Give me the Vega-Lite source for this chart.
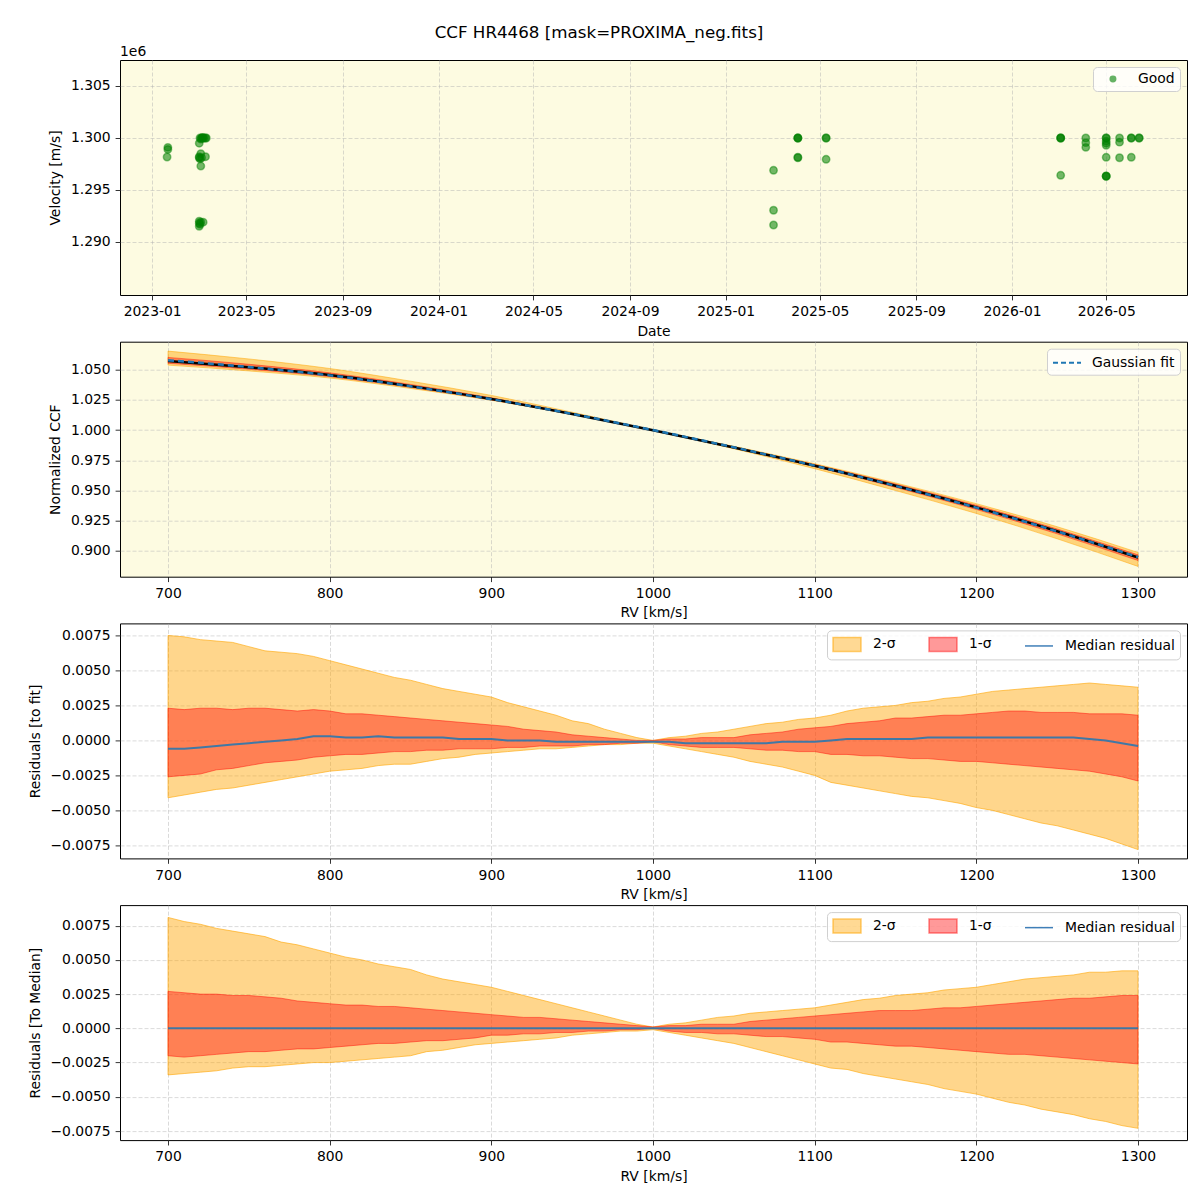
{
  "$schema": "https://vega.github.io/schema/vega-lite/v6.json",
  "autosize": {"type": "pad"},
  "padding": {"left": 27, "top": 24, "right": 12, "bottom": 5},
  "background": "white",
  "title": {"text": "CCF HR4468 [mask=PROXIMA_neg.fits]", "anchor": "middle", "frame": "group", "fontSize": 16.7, "fontWeight": "normal", "dx": -54.5, "offset": 3, "color": "black"},
  "spacing": 46.7,
  "bounds": "flush",
  "resolve": {"scale": {"color": "independent", "shape": "independent", "stroke": "independent"}, "legend": {"color": "independent", "shape": "independent", "stroke": "independent"}},
  "config": {
    "font": "DejaVu Sans",
    "view": {"fill": "#fdfbe1", "stroke": "black", "strokeWidth": 1},
    "axis": {"labelFont": "DejaVu Sans", "titleFont": "DejaVu Sans", "labelFontSize": 13.9, "titleFontSize": 13.9, "titleFontWeight": "normal", "labelColor": "black", "titleColor": "black", "tickColor": "black", "tickSize": 4.9, "tickWidth": 0.8, "domain": false, "gridColor": "#b0b0b0", "gridDash": [4, 2], "gridOpacity": 0.6, "gridWidth": 0.8, "labelPadding": 4.9, "labelOverlap": false, "tickCount": 20},
    "axisX": {"titlePadding": 5.5},
    "axisY": {"titlePadding": 7.5},
    "legend": {"labelFont": "DejaVu Sans", "labelFontSize": 13.9, "labelColor": "black", "title": null, "orient": "top-right", "offset": 7, "fillColor": "rgba(255,255,255,0.8)", "strokeColor": "#d0d0d0", "cornerRadius": 4, "padding": 5}
  },
  "datasets": {
    "leg": [{"cat": "2-σ"}, {"cat": "1-σ"}, {"cat": "Median residual"}],
    "vel": [
      {"date": "2023-01-21", "v": 1299100}, {"date": "2023-01-21", "v": 1298900}, {"date": "2023-01-20", "v": 1298170},
      {"date": "2023-03-02", "v": 1299500}, {"date": "2023-03-02", "v": 1298100}, {"date": "2023-03-02", "v": 1298200}, {"date": "2023-03-02", "v": 1291800}, {"date": "2023-03-02", "v": 1291500}, {"date": "2023-03-02", "v": 1292000},
      {"date": "2023-03-03", "v": 1300000}, {"date": "2023-03-03", "v": 1298000}, {"date": "2023-03-03", "v": 1291700}, {"date": "2023-03-04", "v": 1297300},
      {"date": "2023-03-04", "v": 1299900}, {"date": "2023-03-04", "v": 1298500}, {"date": "2023-03-04", "v": 1291900},
      {"date": "2023-03-05", "v": 1300000}, {"date": "2023-03-05", "v": 1298100}, {"date": "2023-03-06", "v": 1300050},
      {"date": "2023-03-07", "v": 1300000}, {"date": "2023-03-07", "v": 1291900}, {"date": "2023-03-08", "v": 1300000},
      {"date": "2023-03-10", "v": 1300000}, {"date": "2023-03-10", "v": 1298200}, {"date": "2023-03-11", "v": 1300000},
      {"date": "2025-03-03", "v": 1296890}, {"date": "2025-03-03", "v": 1293050}, {"date": "2025-03-03", "v": 1291630},
      {"date": "2025-04-03", "v": 1300000}, {"date": "2025-04-03", "v": 1300000}, {"date": "2025-04-03", "v": 1300000}, {"date": "2025-04-03", "v": 1298100}, {"date": "2025-04-03", "v": 1298150},
      {"date": "2025-05-09", "v": 1300000}, {"date": "2025-05-09", "v": 1300000}, {"date": "2025-05-09", "v": 1297950},
      {"date": "2026-03-04", "v": 1300000}, {"date": "2026-03-04", "v": 1300000}, {"date": "2026-03-04", "v": 1300000}, {"date": "2026-03-04", "v": 1296410},
      {"date": "2026-04-05", "v": 1300000}, {"date": "2026-04-05", "v": 1299550}, {"date": "2026-04-05", "v": 1299100},
      {"date": "2026-05-01", "v": 1300000}, {"date": "2026-05-01", "v": 1300000}, {"date": "2026-05-01", "v": 1299700}, {"date": "2026-05-01", "v": 1299300}, {"date": "2026-05-01", "v": 1299500}, {"date": "2026-05-01", "v": 1298140}, {"date": "2026-05-01", "v": 1296320}, {"date": "2026-05-01", "v": 1296320}, {"date": "2026-05-01", "v": 1296350},
      {"date": "2026-05-18", "v": 1300000}, {"date": "2026-05-18", "v": 1299600}, {"date": "2026-05-18", "v": 1298100},
      {"date": "2026-06-02", "v": 1300000}, {"date": "2026-06-02", "v": 1300000}, {"date": "2026-06-02", "v": 1298140},
      {"date": "2026-06-12", "v": 1300000}, {"date": "2026-06-12", "v": 1300000}
    ],
    "ccf": [
      {"rv": 700, "fit": 1.0579, "med": 1.0573, "lo2": 1.0538, "lo1": 1.0553, "hi1": 1.0602, "hi2": 1.0654},
      {"rv": 750, "fit": 1.0522, "med": 1.0520, "lo2": 1.0490, "lo1": 1.0504, "hi1": 1.0545, "hi2": 1.0589},
      {"rv": 800, "fit": 1.0453, "med": 1.0456, "lo2": 1.0431, "lo1": 1.0442, "hi1": 1.0474, "hi2": 1.0510},
      {"rv": 850, "fit": 1.0362, "med": 1.0364, "lo2": 1.0345, "lo1": 1.0354, "hi1": 1.0378, "hi2": 1.0405},
      {"rv": 900, "fit": 1.0256, "med": 1.0257, "lo2": 1.0247, "lo1": 1.0250, "hi1": 1.0267, "hi2": 1.0287},
      {"rv": 950, "fit": 1.0134, "med": 1.0133, "lo2": 1.0129, "lo1": 1.0130, "hi1": 1.0138, "hi2": 1.0148},
      {"rv": 1000, "fit": 1.0000, "med": 0.9999, "lo2": 0.9998, "lo1": 0.9999, "hi1": 1.0000, "hi2": 1.0000},
      {"rv": 1050, "fit": 0.9857, "med": 0.9855, "lo2": 0.9845, "lo1": 0.9852, "hi1": 0.9859, "hi2": 0.9865},
      {"rv": 1100, "fit": 0.9705, "med": 0.9704, "lo2": 0.9680, "lo1": 0.9697, "hi1": 0.9714, "hi2": 0.9721},
      {"rv": 1150, "fit": 0.9537, "med": 0.9538, "lo2": 0.9499, "lo1": 0.9525, "hi1": 0.9553, "hi2": 0.9562},
      {"rv": 1200, "fit": 0.9357, "med": 0.9359, "lo2": 0.9309, "lo1": 0.9342, "hi1": 0.9376, "hi2": 0.9390},
      {"rv": 1250, "fit": 0.9160, "med": 0.9162, "lo2": 0.9099, "lo1": 0.9140, "hi1": 0.9180, "hi2": 0.9199},
      {"rv": 1300, "fit": 0.8948, "med": 0.8944, "lo2": 0.8870, "lo1": 0.8919, "hi1": 0.8966, "hi2": 0.8986}
    ],
    "p3": [
      {"rv": 700, "lo2": -0.0041, "lo1": -0.0026, "med": -0.0006, "hi1": 0.0023, "hi2": 0.0075},
      {"rv": 710, "lo2": -0.0039, "lo1": -0.0025, "med": -0.0006, "hi1": 0.0022, "hi2": 0.0074},
      {"rv": 720, "lo2": -0.0037, "lo1": -0.0024, "med": -0.0005, "hi1": 0.0023, "hi2": 0.0072},
      {"rv": 730, "lo2": -0.0035, "lo1": -0.0021, "med": -0.0004, "hi1": 0.0023, "hi2": 0.0071},
      {"rv": 740, "lo2": -0.0034, "lo1": -0.0020, "med": -0.0003, "hi1": 0.0022, "hi2": 0.0070},
      {"rv": 750, "lo2": -0.0032, "lo1": -0.0018, "med": -0.0002, "hi1": 0.0023, "hi2": 0.0067},
      {"rv": 760, "lo2": -0.0030, "lo1": -0.0016, "med": -0.0001, "hi1": 0.0023, "hi2": 0.0064},
      {"rv": 770, "lo2": -0.0028, "lo1": -0.0015, "med": 0.0000, "hi1": 0.0022, "hi2": 0.0063},
      {"rv": 780, "lo2": -0.0026, "lo1": -0.0014, "med": 0.0001, "hi1": 0.0021, "hi2": 0.0062},
      {"rv": 790, "lo2": -0.0024, "lo1": -0.0012, "med": 0.0003, "hi1": 0.0022, "hi2": 0.0060},
      {"rv": 800, "lo2": -0.0022, "lo1": -0.0011, "med": 0.0003, "hi1": 0.0021, "hi2": 0.0057},
      {"rv": 810, "lo2": -0.0021, "lo1": -0.0010, "med": 0.0002, "hi1": 0.0019, "hi2": 0.0054},
      {"rv": 820, "lo2": -0.0020, "lo1": -0.0010, "med": 0.0002, "hi1": 0.0019, "hi2": 0.0051},
      {"rv": 830, "lo2": -0.0018, "lo1": -0.0009, "med": 0.0003, "hi1": 0.0018, "hi2": 0.0048},
      {"rv": 840, "lo2": -0.0017, "lo1": -0.0008, "med": 0.0002, "hi1": 0.0017, "hi2": 0.0045},
      {"rv": 850, "lo2": -0.0017, "lo1": -0.0008, "med": 0.0002, "hi1": 0.0016, "hi2": 0.0043},
      {"rv": 860, "lo2": -0.0015, "lo1": -0.0007, "med": 0.0002, "hi1": 0.0015, "hi2": 0.0040},
      {"rv": 870, "lo2": -0.0013, "lo1": -0.0007, "med": 0.0002, "hi1": 0.0014, "hi2": 0.0037},
      {"rv": 880, "lo2": -0.0012, "lo1": -0.0006, "med": 0.0001, "hi1": 0.0013, "hi2": 0.0035},
      {"rv": 890, "lo2": -0.0010, "lo1": -0.0006, "med": 0.0001, "hi1": 0.0012, "hi2": 0.0033},
      {"rv": 900, "lo2": -0.0009, "lo1": -0.0006, "med": 0.0001, "hi1": 0.0011, "hi2": 0.0031},
      {"rv": 910, "lo2": -0.0008, "lo1": -0.0005, "med": 0.0000, "hi1": 0.0010, "hi2": 0.0027},
      {"rv": 920, "lo2": -0.0007, "lo1": -0.0005, "med": 0.0000, "hi1": 0.0008, "hi2": 0.0024},
      {"rv": 930, "lo2": -0.0006, "lo1": -0.0004, "med": 0.0000, "hi1": 0.0007, "hi2": 0.0021},
      {"rv": 940, "lo2": -0.0006, "lo1": -0.0004, "med": -0.0001, "hi1": 0.0006, "hi2": 0.0018},
      {"rv": 950, "lo2": -0.0005, "lo1": -0.0004, "med": -0.0001, "hi1": 0.0004, "hi2": 0.0014},
      {"rv": 960, "lo2": -0.0004, "lo1": -0.0003, "med": -0.0001, "hi1": 0.0003, "hi2": 0.0012},
      {"rv": 970, "lo2": -0.0003, "lo1": -0.0003, "med": -0.0001, "hi1": 0.0002, "hi2": 0.0008},
      {"rv": 980, "lo2": -0.0003, "lo1": -0.0002, "med": -0.0001, "hi1": 0.0001, "hi2": 0.0005},
      {"rv": 990, "lo2": -0.0002, "lo1": -0.0002, "med": -0.0001, "hi1": 0.0000, "hi2": 0.0002},
      {"rv": 1000, "lo2": -0.0002, "lo1": -0.0001, "med": -0.0001, "hi1": 0.0000, "hi2": 0.0000},
      {"rv": 1010, "lo2": -0.0004, "lo1": -0.0003, "med": -0.0001, "hi1": 0.0001, "hi2": 0.0002},
      {"rv": 1020, "lo2": -0.0006, "lo1": -0.0004, "med": -0.0002, "hi1": 0.0001, "hi2": 0.0003},
      {"rv": 1030, "lo2": -0.0008, "lo1": -0.0005, "med": -0.0002, "hi1": 0.0002, "hi2": 0.0005},
      {"rv": 1040, "lo2": -0.0010, "lo1": -0.0005, "med": -0.0002, "hi1": 0.0002, "hi2": 0.0006},
      {"rv": 1050, "lo2": -0.0012, "lo1": -0.0005, "med": -0.0002, "hi1": 0.0002, "hi2": 0.0008},
      {"rv": 1060, "lo2": -0.0015, "lo1": -0.0006, "med": -0.0002, "hi1": 0.0004, "hi2": 0.0010},
      {"rv": 1070, "lo2": -0.0017, "lo1": -0.0007, "med": -0.0002, "hi1": 0.0005, "hi2": 0.0012},
      {"rv": 1080, "lo2": -0.0019, "lo1": -0.0007, "med": -0.0001, "hi1": 0.0006, "hi2": 0.0013},
      {"rv": 1090, "lo2": -0.0022, "lo1": -0.0008, "med": -0.0001, "hi1": 0.0008, "hi2": 0.0015},
      {"rv": 1100, "lo2": -0.0025, "lo1": -0.0008, "med": -0.0001, "hi1": 0.0009, "hi2": 0.0016},
      {"rv": 1110, "lo2": -0.0030, "lo1": -0.0010, "med": 0.0000, "hi1": 0.0010, "hi2": 0.0018},
      {"rv": 1120, "lo2": -0.0032, "lo1": -0.0010, "med": 0.0001, "hi1": 0.0012, "hi2": 0.0021},
      {"rv": 1130, "lo2": -0.0034, "lo1": -0.0011, "med": 0.0001, "hi1": 0.0013, "hi2": 0.0023},
      {"rv": 1140, "lo2": -0.0036, "lo1": -0.0011, "med": 0.0001, "hi1": 0.0014, "hi2": 0.0024},
      {"rv": 1150, "lo2": -0.0038, "lo1": -0.0012, "med": 0.0001, "hi1": 0.0016, "hi2": 0.0025},
      {"rv": 1160, "lo2": -0.0040, "lo1": -0.0013, "med": 0.0001, "hi1": 0.0016, "hi2": 0.0027},
      {"rv": 1170, "lo2": -0.0041, "lo1": -0.0013, "med": 0.0002, "hi1": 0.0017, "hi2": 0.0028},
      {"rv": 1180, "lo2": -0.0043, "lo1": -0.0014, "med": 0.0002, "hi1": 0.0018, "hi2": 0.0030},
      {"rv": 1190, "lo2": -0.0045, "lo1": -0.0015, "med": 0.0002, "hi1": 0.0018, "hi2": 0.0031},
      {"rv": 1200, "lo2": -0.0048, "lo1": -0.0015, "med": 0.0002, "hi1": 0.0019, "hi2": 0.0033},
      {"rv": 1210, "lo2": -0.0050, "lo1": -0.0016, "med": 0.0002, "hi1": 0.0020, "hi2": 0.0035},
      {"rv": 1220, "lo2": -0.0053, "lo1": -0.0017, "med": 0.0002, "hi1": 0.0021, "hi2": 0.0036},
      {"rv": 1230, "lo2": -0.0056, "lo1": -0.0018, "med": 0.0002, "hi1": 0.0021, "hi2": 0.0037},
      {"rv": 1240, "lo2": -0.0059, "lo1": -0.0019, "med": 0.0002, "hi1": 0.0020, "hi2": 0.0038},
      {"rv": 1250, "lo2": -0.0061, "lo1": -0.0020, "med": 0.0002, "hi1": 0.0020, "hi2": 0.0039},
      {"rv": 1260, "lo2": -0.0064, "lo1": -0.0021, "med": 0.0002, "hi1": 0.0020, "hi2": 0.0040},
      {"rv": 1270, "lo2": -0.0067, "lo1": -0.0022, "med": 0.0001, "hi1": 0.0019, "hi2": 0.0041},
      {"rv": 1280, "lo2": -0.0070, "lo1": -0.0024, "med": 0.0000, "hi1": 0.0019, "hi2": 0.0040},
      {"rv": 1290, "lo2": -0.0074, "lo1": -0.0026, "med": -0.0002, "hi1": 0.0019, "hi2": 0.0039},
      {"rv": 1300, "lo2": -0.0078, "lo1": -0.0029, "med": -0.0004, "hi1": 0.0018, "hi2": 0.0038}
    ],
    "p4": [
      {"rv": 700, "lo2": -0.0034, "lo1": -0.0020, "med": 0, "hi1": 0.0027, "hi2": 0.0081},
      {"rv": 710, "lo2": -0.0033, "lo1": -0.0021, "med": 0, "hi1": 0.0026, "hi2": 0.0078},
      {"rv": 720, "lo2": -0.0032, "lo1": -0.0020, "med": 0, "hi1": 0.0025, "hi2": 0.0076},
      {"rv": 730, "lo2": -0.0031, "lo1": -0.0019, "med": 0, "hi1": 0.0025, "hi2": 0.0073},
      {"rv": 740, "lo2": -0.0029, "lo1": -0.0018, "med": 0, "hi1": 0.0024, "hi2": 0.0071},
      {"rv": 750, "lo2": -0.0028, "lo1": -0.0017, "med": 0, "hi1": 0.0024, "hi2": 0.0069},
      {"rv": 760, "lo2": -0.0028, "lo1": -0.0017, "med": 0, "hi1": 0.0023, "hi2": 0.0067},
      {"rv": 770, "lo2": -0.0027, "lo1": -0.0016, "med": 0, "hi1": 0.0022, "hi2": 0.0063},
      {"rv": 780, "lo2": -0.0026, "lo1": -0.0015, "med": 0, "hi1": 0.0020, "hi2": 0.0061},
      {"rv": 790, "lo2": -0.0025, "lo1": -0.0015, "med": 0, "hi1": 0.0019, "hi2": 0.0058},
      {"rv": 800, "lo2": -0.0025, "lo1": -0.0014, "med": 0, "hi1": 0.0018, "hi2": 0.0055},
      {"rv": 810, "lo2": -0.0024, "lo1": -0.0013, "med": 0, "hi1": 0.0017, "hi2": 0.0052},
      {"rv": 820, "lo2": -0.0023, "lo1": -0.0012, "med": 0, "hi1": 0.0017, "hi2": 0.0050},
      {"rv": 830, "lo2": -0.0022, "lo1": -0.0011, "med": 0, "hi1": 0.0016, "hi2": 0.0047},
      {"rv": 840, "lo2": -0.0021, "lo1": -0.0011, "med": 0, "hi1": 0.0016, "hi2": 0.0045},
      {"rv": 850, "lo2": -0.0020, "lo1": -0.0010, "med": 0, "hi1": 0.0015, "hi2": 0.0043},
      {"rv": 860, "lo2": -0.0017, "lo1": -0.0009, "med": 0, "hi1": 0.0014, "hi2": 0.0039},
      {"rv": 870, "lo2": -0.0016, "lo1": -0.0009, "med": 0, "hi1": 0.0013, "hi2": 0.0036},
      {"rv": 880, "lo2": -0.0014, "lo1": -0.0008, "med": 0, "hi1": 0.0012, "hi2": 0.0034},
      {"rv": 890, "lo2": -0.0012, "lo1": -0.0007, "med": 0, "hi1": 0.0011, "hi2": 0.0032},
      {"rv": 900, "lo2": -0.0011, "lo1": -0.0005, "med": 0, "hi1": 0.0010, "hi2": 0.0030},
      {"rv": 910, "lo2": -0.0010, "lo1": -0.0005, "med": 0, "hi1": 0.0009, "hi2": 0.0027},
      {"rv": 920, "lo2": -0.0009, "lo1": -0.0004, "med": 0, "hi1": 0.0008, "hi2": 0.0024},
      {"rv": 930, "lo2": -0.0008, "lo1": -0.0004, "med": 0, "hi1": 0.0008, "hi2": 0.0021},
      {"rv": 940, "lo2": -0.0007, "lo1": -0.0003, "med": 0, "hi1": 0.0007, "hi2": 0.0018},
      {"rv": 950, "lo2": -0.0005, "lo1": -0.0003, "med": 0, "hi1": 0.0006, "hi2": 0.0015},
      {"rv": 960, "lo2": -0.0004, "lo1": -0.0002, "med": 0, "hi1": 0.0005, "hi2": 0.0012},
      {"rv": 970, "lo2": -0.0003, "lo1": -0.0002, "med": 0, "hi1": 0.0004, "hi2": 0.0009},
      {"rv": 980, "lo2": -0.0002, "lo1": -0.0001, "med": 0, "hi1": 0.0003, "hi2": 0.0006},
      {"rv": 990, "lo2": -0.0002, "lo1": -0.0001, "med": 0, "hi1": 0.0002, "hi2": 0.0003},
      {"rv": 1000, "lo2": -0.0001, "lo1": 0.0000, "med": 0, "hi1": 0.0001, "hi2": 0.0001},
      {"rv": 1010, "lo2": -0.0003, "lo1": -0.0002, "med": 0, "hi1": 0.0002, "hi2": 0.0003},
      {"rv": 1020, "lo2": -0.0005, "lo1": -0.0003, "med": 0, "hi1": 0.0002, "hi2": 0.0004},
      {"rv": 1030, "lo2": -0.0007, "lo1": -0.0003, "med": 0, "hi1": 0.0003, "hi2": 0.0006},
      {"rv": 1040, "lo2": -0.0009, "lo1": -0.0004, "med": 0, "hi1": 0.0003, "hi2": 0.0008},
      {"rv": 1050, "lo2": -0.0011, "lo1": -0.0004, "med": 0, "hi1": 0.0003, "hi2": 0.0009},
      {"rv": 1060, "lo2": -0.0014, "lo1": -0.0005, "med": 0, "hi1": 0.0005, "hi2": 0.0011},
      {"rv": 1070, "lo2": -0.0017, "lo1": -0.0006, "med": 0, "hi1": 0.0006, "hi2": 0.0012},
      {"rv": 1080, "lo2": -0.0020, "lo1": -0.0006, "med": 0, "hi1": 0.0007, "hi2": 0.0013},
      {"rv": 1090, "lo2": -0.0023, "lo1": -0.0007, "med": 0, "hi1": 0.0008, "hi2": 0.0014},
      {"rv": 1100, "lo2": -0.0026, "lo1": -0.0008, "med": 0, "hi1": 0.0009, "hi2": 0.0015},
      {"rv": 1110, "lo2": -0.0029, "lo1": -0.0010, "med": 0, "hi1": 0.0010, "hi2": 0.0017},
      {"rv": 1120, "lo2": -0.0030, "lo1": -0.0010, "med": 0, "hi1": 0.0011, "hi2": 0.0019},
      {"rv": 1130, "lo2": -0.0033, "lo1": -0.0011, "med": 0, "hi1": 0.0012, "hi2": 0.0021},
      {"rv": 1140, "lo2": -0.0035, "lo1": -0.0012, "med": 0, "hi1": 0.0013, "hi2": 0.0022},
      {"rv": 1150, "lo2": -0.0037, "lo1": -0.0013, "med": 0, "hi1": 0.0013, "hi2": 0.0024},
      {"rv": 1160, "lo2": -0.0039, "lo1": -0.0013, "med": 0, "hi1": 0.0013, "hi2": 0.0025},
      {"rv": 1170, "lo2": -0.0041, "lo1": -0.0014, "med": 0, "hi1": 0.0014, "hi2": 0.0026},
      {"rv": 1180, "lo2": -0.0044, "lo1": -0.0015, "med": 0, "hi1": 0.0015, "hi2": 0.0028},
      {"rv": 1190, "lo2": -0.0046, "lo1": -0.0016, "med": 0, "hi1": 0.0015, "hi2": 0.0029},
      {"rv": 1200, "lo2": -0.0048, "lo1": -0.0017, "med": 0, "hi1": 0.0016, "hi2": 0.0030},
      {"rv": 1210, "lo2": -0.0051, "lo1": -0.0018, "med": 0, "hi1": 0.0017, "hi2": 0.0032},
      {"rv": 1220, "lo2": -0.0054, "lo1": -0.0019, "med": 0, "hi1": 0.0018, "hi2": 0.0034},
      {"rv": 1230, "lo2": -0.0056, "lo1": -0.0019, "med": 0, "hi1": 0.0019, "hi2": 0.0036},
      {"rv": 1240, "lo2": -0.0059, "lo1": -0.0020, "med": 0, "hi1": 0.0020, "hi2": 0.0037},
      {"rv": 1250, "lo2": -0.0061, "lo1": -0.0021, "med": 0, "hi1": 0.0021, "hi2": 0.0038},
      {"rv": 1260, "lo2": -0.0063, "lo1": -0.0022, "med": 0, "hi1": 0.0022, "hi2": 0.0039},
      {"rv": 1270, "lo2": -0.0066, "lo1": -0.0023, "med": 0, "hi1": 0.0022, "hi2": 0.0041},
      {"rv": 1280, "lo2": -0.0068, "lo1": -0.0024, "med": 0, "hi1": 0.0023, "hi2": 0.0041},
      {"rv": 1290, "lo2": -0.0071, "lo1": -0.0025, "med": 0, "hi1": 0.0024, "hi2": 0.0042},
      {"rv": 1300, "lo2": -0.0073, "lo1": -0.0026, "med": 0, "hi1": 0.0024, "hi2": 0.0042}
    ]
  },
  "vconcat": [
    {
      "width": 1067, "height": 235,
      "title": {"text": "1e6", "anchor": "start", "frame": "group", "fontSize": 13.9, "fontWeight": "normal", "offset": 1, "color": "black"},
      "data": {"name": "vel"},
      "mark": {"type": "point", "filled": true, "size": 55, "fillOpacity": 0.55, "stroke": "green", "strokeOpacity": 0.45, "strokeWidth": 1.5},
      "encoding": {
        "x": {"field": "date", "type": "temporal", "scale": {"type": "utc", "domain": [{"year": 2022, "month": 11, "date": 21, "utc": true}, {"year": 2026, "month": 8, "date": 12, "utc": true}]},
          "axis": {"title": "Date", "values": [{"year": 2023, "month": 1, "date": 1, "utc": true}, {"year": 2023, "month": 5, "date": 1, "utc": true}, {"year": 2023, "month": 9, "date": 1, "utc": true}, {"year": 2024, "month": 1, "date": 1, "utc": true}, {"year": 2024, "month": 5, "date": 1, "utc": true}, {"year": 2024, "month": 9, "date": 1, "utc": true}, {"year": 2025, "month": 1, "date": 1, "utc": true}, {"year": 2025, "month": 5, "date": 1, "utc": true}, {"year": 2025, "month": 9, "date": 1, "utc": true}, {"year": 2026, "month": 1, "date": 1, "utc": true}, {"year": 2026, "month": 5, "date": 1, "utc": true}], "labelExpr": "utcFormat(datum.value, '%Y-%m')"}},
        "y": {"field": "v", "type": "quantitative", "scale": {"domain": [1284900, 1307500], "nice": false, "zero": false},
          "axis": {"title": "Velocity [m/s]", "values": [1290000, 1295000, 1300000, 1305000], "labelExpr": "format(datum.value / 1000000, '.3f')"}},
        "color": {"datum": "Good", "type": "nominal", "scale": {"range": ["green"]},
          "legend": {"symbolType": "circle", "symbolSize": 30, "symbolOpacity": 0.6, "labelOffset": 18, "symbolOffset": 8}}
      }
    },
    {
      "width": 1067, "height": 235,
      "data": {"name": "ccf"},
      "encoding": {
        "x": {"field": "rv", "type": "quantitative", "scale": {"domain": [670.3, 1330.3], "nice": false, "zero": false}, "axis": {"title": "RV [km/s]", "values": [700, 800, 900, 1000, 1100, 1200, 1300], "format": "d"}}
      },
      "layer": [
        {"mark": {"type": "area", "fill": "orange", "fillOpacity": 0.45, "stroke": "orange", "strokeOpacity": 0.5, "strokeWidth": 1, "interpolate": "monotone"},
          "encoding": {"y": {"field": "lo2", "type": "quantitative", "scale": {"domain": [0.8785, 1.0732], "nice": false, "zero": false}, "axis": {"title": "Normalized CCF", "values": [0.9, 0.925, 0.95, 0.975, 1.0, 1.025, 1.05], "format": ".3f"}}, "y2": {"field": "hi2"}}},
        {"mark": {"type": "area", "fill": "red", "fillOpacity": 0.4, "stroke": "red", "strokeOpacity": 0.4, "strokeWidth": 1, "interpolate": "monotone"},
          "encoding": {"y": {"field": "lo1", "type": "quantitative"}, "y2": {"field": "hi1"}}},
        {"mark": {"type": "line", "color": "black", "strokeWidth": 2.5, "interpolate": "monotone"},
          "encoding": {"y": {"field": "med", "type": "quantitative"}}},
        {"mark": {"type": "line", "strokeWidth": 2.5, "strokeDash": [6, 4], "interpolate": "monotone"},
          "encoding": {"y": {"field": "fit", "type": "quantitative"},
            "color": {"datum": "Gaussian fit", "type": "nominal", "scale": {"range": ["#1f77b4"]},
              "legend": {"symbolType": "M-1,0H2.5", "symbolSize": 256, "symbolStrokeWidth": 2, "symbolDash": [5, 3], "symbolStrokeColor": "#4a90d0", "symbolFillColor": "transparent", "labelOffset": 22}}}}
      ]
    },
    {
      "width": 1067, "height": 235,
      "layer": [
        {"data": {"name": "p3"},
          "mark": {"type": "area", "fill": "#ffa500", "fillOpacity": 0.45, "stroke": "orange", "strokeOpacity": 0.6, "strokeWidth": 1},
          "encoding": {
            "x": {"field": "rv", "type": "quantitative", "scale": {"domain": [670.3, 1330.3], "nice": false, "zero": false}, "axis": {"title": "RV [km/s]", "values": [700, 800, 900, 1000, 1100, 1200, 1300], "format": "d"}},
            "y": {"field": "lo2", "type": "quantitative", "scale": {"domain": [-0.00843, 0.00836], "nice": false, "zero": false}, "axis": {"title": "Residuals [to fit]", "values": [-0.0075, -0.005, -0.0025, 0, 0.0025, 0.005, 0.0075], "format": ".4f"}}, "y2": {"field": "hi2"}}},
        {"data": {"name": "p3"},
          "mark": {"type": "area", "fill": "red", "fillOpacity": 0.4, "stroke": "red", "strokeOpacity": 0.45, "strokeWidth": 1},
          "encoding": {"x": {"field": "rv", "type": "quantitative"}, "y": {"field": "lo1", "type": "quantitative"}, "y2": {"field": "hi1"}}},
        {"data": {"name": "p3"},
          "mark": {"type": "line", "stroke": "#1f77b4", "strokeWidth": 2, "opacity": 0.85},
          "encoding": {"x": {"field": "rv", "type": "quantitative"}, "y": {"field": "med", "type": "quantitative"}}},
        {"data": {"name": "leg"},
          "mark": {"type": "point", "filled": true, "opacity": 0},
          "encoding": {
            "color": {"field": "cat", "type": "nominal", "scale": {"domain": ["2-σ", "1-σ", "Median residual"], "range": ["rgba(255,165,0,0.42)", "rgba(255,0,0,0.4)", "transparent"]},
              "legend": {"direction": "horizontal", "columns": 3, "columnPadding": 30, "symbolSize": 256, "labelOffset": 23, "symbolOpacity": 1, "symbolStrokeWidth": 1.5}},
            "shape": {"field": "cat", "type": "nominal", "scale": {"domain": ["2-σ", "1-σ", "Median residual"], "range": ["M-1,-0.875H2.5V0.875H-1Z", "M-1,-0.875H2.5V0.875H-1Z", "M-1,0H2.5"]},
              "legend": {"direction": "horizontal", "columns": 3, "columnPadding": 30, "symbolSize": 256, "labelOffset": 23, "symbolOpacity": 1, "symbolStrokeWidth": 1.5}},
            "stroke": {"field": "cat", "type": "nominal", "scale": {"domain": ["2-σ", "1-σ", "Median residual"], "range": ["rgba(255,165,0,0.55)", "rgba(255,0,0,0.45)", "#3f7fb8"]},
              "legend": {"direction": "horizontal", "columns": 3, "columnPadding": 30, "symbolSize": 256, "labelOffset": 23, "symbolOpacity": 1, "symbolStrokeWidth": 1.5}}
          }}
      ]
    },
    {
      "width": 1067, "height": 235,
      "layer": [
        {"data": {"name": "p4"},
          "mark": {"type": "area", "fill": "#ffa500", "fillOpacity": 0.45, "stroke": "orange", "strokeOpacity": 0.6, "strokeWidth": 1},
          "encoding": {
            "x": {"field": "rv", "type": "quantitative", "scale": {"domain": [670.3, 1330.3], "nice": false, "zero": false}, "axis": {"title": "RV [km/s]", "values": [700, 800, 900, 1000, 1100, 1200, 1300], "format": "d"}},
            "y": {"field": "lo2", "type": "quantitative", "scale": {"domain": [-0.00816, 0.0090], "nice": false, "zero": false}, "axis": {"title": "Residuals [To Median]", "values": [-0.0075, -0.005, -0.0025, 0, 0.0025, 0.005, 0.0075], "format": ".4f"}}, "y2": {"field": "hi2"}}},
        {"data": {"name": "p4"},
          "mark": {"type": "area", "fill": "red", "fillOpacity": 0.4, "stroke": "red", "strokeOpacity": 0.45, "strokeWidth": 1},
          "encoding": {"x": {"field": "rv", "type": "quantitative"}, "y": {"field": "lo1", "type": "quantitative"}, "y2": {"field": "hi1"}}},
        {"data": {"name": "p4"},
          "mark": {"type": "line", "stroke": "#1f77b4", "strokeWidth": 2, "opacity": 0.85},
          "encoding": {"x": {"field": "rv", "type": "quantitative"}, "y": {"field": "med", "type": "quantitative"}}},
        {"data": {"name": "leg"},
          "mark": {"type": "point", "filled": true, "opacity": 0},
          "encoding": {
            "color": {"field": "cat", "type": "nominal", "scale": {"domain": ["2-σ", "1-σ", "Median residual"], "range": ["rgba(255,165,0,0.42)", "rgba(255,0,0,0.4)", "transparent"]},
              "legend": {"direction": "horizontal", "columns": 3, "columnPadding": 30, "symbolSize": 256, "labelOffset": 23, "symbolOpacity": 1, "symbolStrokeWidth": 1.5}},
            "shape": {"field": "cat", "type": "nominal", "scale": {"domain": ["2-σ", "1-σ", "Median residual"], "range": ["M-1,-0.875H2.5V0.875H-1Z", "M-1,-0.875H2.5V0.875H-1Z", "M-1,0H2.5"]},
              "legend": {"direction": "horizontal", "columns": 3, "columnPadding": 30, "symbolSize": 256, "labelOffset": 23, "symbolOpacity": 1, "symbolStrokeWidth": 1.5}},
            "stroke": {"field": "cat", "type": "nominal", "scale": {"domain": ["2-σ", "1-σ", "Median residual"], "range": ["rgba(255,165,0,0.55)", "rgba(255,0,0,0.45)", "#3f7fb8"]},
              "legend": {"direction": "horizontal", "columns": 3, "columnPadding": 30, "symbolSize": 256, "labelOffset": 23, "symbolOpacity": 1, "symbolStrokeWidth": 1.5}}
          }}
      ]
    }
  ]
}
